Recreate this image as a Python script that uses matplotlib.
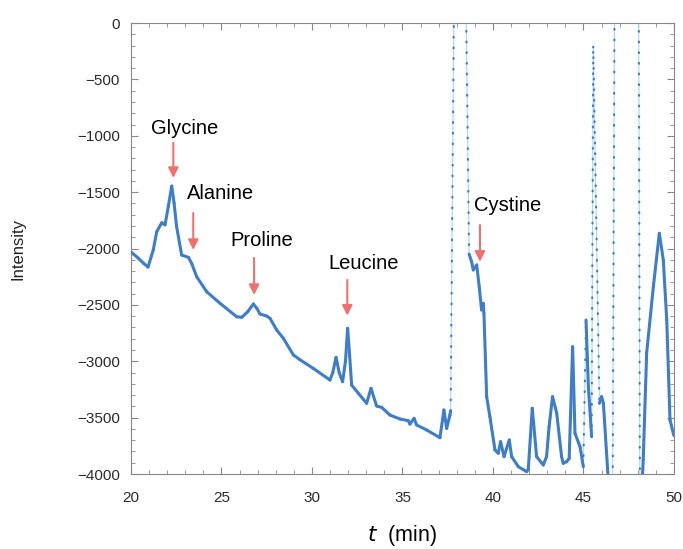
import matplotlib
matplotlib.use("Agg")
import matplotlib.pyplot as plt
import numpy as np
from matplotlib.collections import LineCollection
from matplotlib.ticker import MultipleLocator

plt.rcParams['font.family'] = ['Liberation Sans', 'DejaVu Sans']

# chromatogram trace (t in min, intensity)
t_min = [20.0, 20.4, 20.68, 20.94, 21.23, 21.42, 21.7, 21.88, 22.06, 22.25,
         22.38, 22.52, 22.8, 23.17, 23.35, 23.63, 24.18, 24.92, 25.84, 26.12,
         26.45, 26.76, 26.95, 27.13, 27.5, 27.68, 28.05, 28.42, 28.97, 29.34,
         30.07, 30.99, 31.15, 31.33, 31.5, 31.69, 31.85, 31.97, 32.08, 32.19,
         32.56, 33.02, 33.26, 33.57, 33.85, 34.31, 34.86, 35.32, 35.41, 35.64,
         35.78, 36.34, 37.07, 37.29, 37.44, 37.62, 37.66, 37.85, 38.5, 38.68,
         38.82, 38.91, 39.1, 39.24, 39.37, 39.46, 39.5, 39.65, 39.83, 40.11,
         40.29, 40.42, 40.61, 40.9, 41.03, 41.4, 41.86, 41.95, 42.17, 42.41,
         42.78, 42.96, 43.1, 43.29, 43.52, 43.79, 43.88, 44.07, 44.21, 44.4,
         44.53, 44.81, 44.99, 45.14, 45.27, 45.45, 45.54, 45.88, 46.0, 46.1,
         46.37, 46.6, 46.72, 48.05, 48.12, 48.3, 48.49, 48.86, 49.19, 49.41,
         49.6, 49.78, 49.96, 50.0]
intensity = [-2031, -2085, -2129, -2164, -2013, -1851, -1771, -1790, -1629, -1446,
             -1597, -1806, -2058, -2078, -2131, -2250, -2383, -2486, -2605, -2610,
             -2560, -2492, -2530, -2581, -2599, -2619, -2723, -2797, -2944, -2987,
             -3063, -3166, -3100, -2965, -3100, -3181, -3000, -2708, -2950, -3211,
             -3284, -3373, -3240, -3397, -3409, -3477, -3512, -3527, -3557, -3506,
             -3565, -3610, -3678, -3432, -3595, -3477, -3440, 300, 300, -2050,
             -2117, -2190, -2146, -2339, -2545, -2486, -2575, -3314, -3492, -3787,
             -3816, -3713, -3846, -3698, -3846, -3935, -3979, -3960, -3417, -3846,
             -3920, -3846, -3580, -3314, -3459, -3846, -3905, -3890, -3861, -2871,
             -3639, -3758, -3935, -2634, -3225, -3669, -210, -3373, -3314, -3373,
             -4053, -4600, 400, 400, -4500, -3876, -2927, -2339, -1865, -2102,
             -2634, -3521, -3636, -3660]

# peak labels: name, text position, arrow top, arrow tip
peak_names = ["Glycine", "Alanine", "Proline", "Leucine", "Cystine"]
label_xy = [(22.98, -931), (24.92, -1508), (27.24, -1925), (32.87, -2129), (40.83, -1614)]
arrow_x = [22.34, 23.44, 26.8, 31.95, 39.28]
arrow_top = [-1062, -1685, -2084, -2279, -1792]
arrow_tip = [-1374, -2013, -2412, -2595, -2117]

fig = plt.figure(figsize=(6.83, 5.49), dpi=100)
ax = fig.add_axes([0.1918, 0.1366, 0.795, 0.8214])
ax.set_xlim(20, 50)
ax.set_ylim(-4000, 0)

x = np.array(t_min)
y = np.array(intensity)
pts = np.column_stack([x, y])
segs = np.stack([pts[:-1], pts[1:]], axis=1)

# steepness in screen pixels decides the look: sparse samples on steep flanks
bbox = ax.get_window_extent()
sx = bbox.width / 30.0
sy = bbox.height / 4000.0
slope = np.abs(np.diff(y) * sy) / np.maximum(np.diff(x) * sx, 1e-6)
steep = slope > 40

dark = '#3d7dca'
light = '#a9d6f0'
ax.plot(x, y, color=light, lw=0.8, zorder=2)
ax.add_collection(LineCollection(segs[~steep], colors=dark, linewidths=2.2,
                                 capstyle='round', joinstyle='round', zorder=3))
ax.add_collection(LineCollection(segs[steep], colors=dark, linewidths=1.6,
                                 linestyles=[(0, (0.3, 4.5))], capstyle='round', zorder=3))

for name, (lx, ly), ax_x, top, tip in zip(peak_names, label_xy, arrow_x, arrow_top, arrow_tip):
    ax.text(lx, ly, name, fontsize=14.5, ha='center', va='center', color='black')
    ax.annotate('', xy=(ax_x, tip), xytext=(ax_x, top),
                arrowprops=dict(arrowstyle='-|>,head_width=0.3,head_length=0.6',
                                color='#f07070', lw=1.5, shrinkA=0, shrinkB=0))

ax.xaxis.set_major_locator(MultipleLocator(5))
ax.xaxis.set_minor_locator(MultipleLocator(1))
ax.yaxis.set_major_locator(MultipleLocator(500))
ax.yaxis.set_minor_locator(MultipleLocator(100))
ax.tick_params(which='both', direction='in', top=True, right=True, color='#888888')
ax.tick_params(which='major', length=5, width=0.8, labelsize=11, labelcolor='#2b2b2b')
ax.tick_params(which='minor', length=3, width=0.6)
ax.tick_params(axis='y', pad=8)
ax.tick_params(axis='x', pad=12)
for sp in ax.spines.values():
    sp.set_color('#888888')
    sp.set_linewidth(0.8)

fig.text(18 / 683, 1 - 249 / 549, 'Intensity', rotation=90, fontsize=12,
         ha='center', va='center', color='#222222')
fig.text(402 / 683, 1 - 536 / 549, r'$\mathit{t}$  (min)', fontsize=15.5,
         ha='center', va='center', color='black')

fig.savefig('out.png', dpi=100)
